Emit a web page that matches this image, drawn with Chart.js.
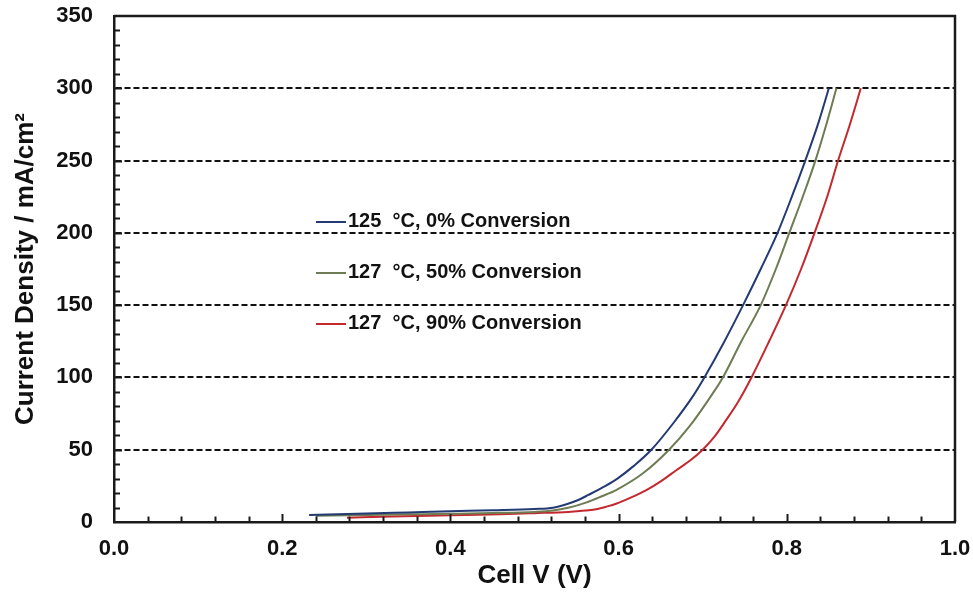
<!DOCTYPE html>
<html>
<head>
<meta charset="utf-8">
<script src="https://cdn.jsdelivr.net/npm/chart.js@4.4.1/dist/chart.umd.min.js"></script>
<style>
  html, body { margin: 0; padding: 0; background: #fff; }
  #wrap { width: 973px; height: 593px; }
</style>
</head>
<body>
<div id="wrap"><canvas id="ivChart" width="973" height="593"></canvas></div>
<script>
// Series labels and colours
const seriesLabels = ['125  °C, 0% Conversion', '127  °C, 50% Conversion', '127  °C, 90% Conversion'];
const seriesColors = ['#233a74', '#6d7c52', '#c4282f'];

// Cell voltage (V) and current density (mA/cm2)
const voltsA = [0.232, 0.30, 0.35, 0.40, 0.45, 0.50, 0.522, 0.538, 0.552, 0.564, 0.585, 0.599, 0.617, 0.639, 0.665, 0.688, 0.702, 0.725, 0.748, 0.769, 0.789, 0.806, 0.822, 0.837, 0.850];
const currA = [4.8, 5.8, 6.6, 7.4, 8.1, 9.0, 9.9, 12.3, 15.2, 18.7, 25.2, 30.2, 38.3, 50, 68.3, 86.7, 100, 124, 150, 175, 200, 225, 250, 275, 300];

const voltsB = [0.24, 0.30, 0.35, 0.40, 0.45, 0.50, 0.522, 0.54, 0.562, 0.58, 0.597, 0.629, 0.660, 0.684, 0.712, 0.724, 0.746, 0.769, 0.787, 0.803, 0.819, 0.834, 0.847, 0.859];
const currB = [4.3, 4.9, 5.3, 5.7, 6.2, 7.0, 7.9, 9.8, 13.6, 17.8, 22.1, 33.7, 50, 65.9, 89, 100, 125, 150, 175, 200, 225, 250, 275, 300];

const voltsC = [0.277, 0.33, 0.40, 0.459, 0.50, 0.54, 0.56, 0.575, 0.585, 0.597, 0.615, 0.633, 0.651, 0.669, 0.685, 0.700, 0.714, 0.728, 0.742, 0.758, 0.779, 0.799, 0.817, 0.833, 0.848, 0.861, 0.875, 0.888];
const currC = [3.0, 3.8, 4.6, 5.3, 6.1, 7.0, 7.9, 9.0, 10.5, 12.6, 17.0, 22.1, 28.5, 36.0, 42.5, 50, 59, 70.6, 83, 100, 125, 150, 175, 200, 225, 250, 275, 300];

// Axis ranges and tick steps
const xMin = 0, xMax = 1.0, xStep = 0.2, xMinorStep = 0.04;
const yMin = 0, yMax = 350, yStep = 50, yMinorStep = 10;

const FONT = '"Liberation Sans", Arial, sans-serif';

function toPoints(xs, ys) {
  return xs.map((v, i) => ({ x: v, y: ys[i] }));
}

// Frame (top/right), inward tick marks and the legend inside the plot
const framePlugin = {
  id: 'frameAndTicks',
  afterDatasetsDraw(chart) {
    const { ctx, chartArea: a, scales: { x, y } } = chart;
    ctx.save();
    ctx.strokeStyle = '#1a1a1a';
    ctx.lineWidth = 2.5;
    ctx.beginPath();
    ctx.moveTo(a.left, a.top);
    ctx.lineTo(a.right, a.top);
    ctx.lineTo(a.right, a.bottom);
    ctx.stroke();

    ctx.lineWidth = 2;
    const nx = Math.round((xMax - xMin) / xMinorStep);
    for (let i = 1; i < nx; i++) {
      const v = xMin + i * xMinorStep;
      const px = Math.round(x.getPixelForValue(v)) + 0.5;
      const len = i % 5 === 0 ? 8 : 5.5;
      ctx.beginPath();
      ctx.moveTo(px, a.bottom);
      ctx.lineTo(px, a.bottom - len);
      ctx.stroke();
    }
    const ny = Math.round((yMax - yMin) / yMinorStep);
    for (let i = 1; i < ny; i++) {
      const v = yMin + i * yMinorStep;
      const py = Math.round(y.getPixelForValue(v)) + 0.5;
      const len = i % 5 === 0 ? 8 : 6;
      ctx.beginPath();
      ctx.moveTo(a.left, py);
      ctx.lineTo(a.left + len, py);
      ctx.stroke();
    }

    // legend
    const lx = 316, ly = 221, gap = 51;
    ctx.font = 'bold 20px ' + FONT;
    ctx.textBaseline = 'middle';
    ctx.textAlign = 'left';
    chart.data.datasets.forEach((ds, i) => {
      const yy = ly + i * gap;
      ctx.strokeStyle = ds.borderColor;
      ctx.lineWidth = 2;
      ctx.beginPath();
      ctx.moveTo(lx, yy + 1);
      ctx.lineTo(lx + 30, yy + 1);
      ctx.stroke();
      ctx.fillStyle = '#111';
      ctx.fillText(ds.label, lx + 32, yy);
    });
    ctx.restore();
  }
};

const chart = new Chart(document.getElementById('ivChart').getContext('2d'), {
  type: 'scatter',
  data: {
    datasets: [
      { label: seriesLabels[0], data: toPoints(voltsA, currA) },
      { label: seriesLabels[1], data: toPoints(voltsB, currB) },
      { label: seriesLabels[2], data: toPoints(voltsC, currC) }
    ].map((d, i) => Object.assign(d, {
      showLine: true,
      borderColor: seriesColors[i],
      backgroundColor: seriesColors[i],
      borderWidth: 2,
      pointRadius: 0,
      cubicInterpolationMode: 'monotone'
    }))
  },
  options: {
    responsive: false,
    animation: false,
    layout: { padding: { left: 0, right: 18, top: 16, bottom: 0 } },
    plugins: {
      legend: { display: false },
      tooltip: { enabled: false }
    },
    scales: {
      x: {
        type: 'linear',
        min: xMin, max: xMax,
        afterFit: s => { s.height = 71; s.paddingLeft = 0; s.paddingRight = 0; },
        ticks: {
          stepSize: xStep,
          padding: 14,
          color: '#111',
          font: { family: FONT, size: 22, weight: 'bold' },
          callback: v => Number(v).toFixed(1)
        },
        grid: { display: false, drawTicks: false },
        border: { display: true, color: '#1a1a1a', width: 2.5 },
        title: {
          display: true,
          text: 'Cell V (V)',
          color: '#111',
          font: { family: FONT, size: 26, weight: 'bold' },
          padding: { top: 0, bottom: 2 }
        }
      },
      y: {
        type: 'linear',
        min: yMin, max: yMax,
        afterFit: s => { s.width = 114; s.paddingTop = 0; s.paddingBottom = 0; },
        ticks: {
          stepSize: yStep,
          padding: 21,
          color: '#111',
          font: { family: FONT, size: 22, weight: 'bold' }
        },
        grid: {
          drawTicks: false,
          lineWidth: 2,
          color: c => (c.tick && c.tick.value > yMin && c.tick.value < yMax) ? '#111' : 'rgba(0,0,0,0)'
        },
        border: { display: true, color: '#1a1a1a', width: 2.5, dash: [6, 3] },
        title: {
          display: true,
          text: 'Current Density / mA/cm²',
          color: '#111',
          font: { family: FONT, size: 26, weight: 'bold' },
          padding: { top: 10, bottom: 0 }
        }
      }
    }
  },
  plugins: [framePlugin]
});
</script>
</body>
</html>
